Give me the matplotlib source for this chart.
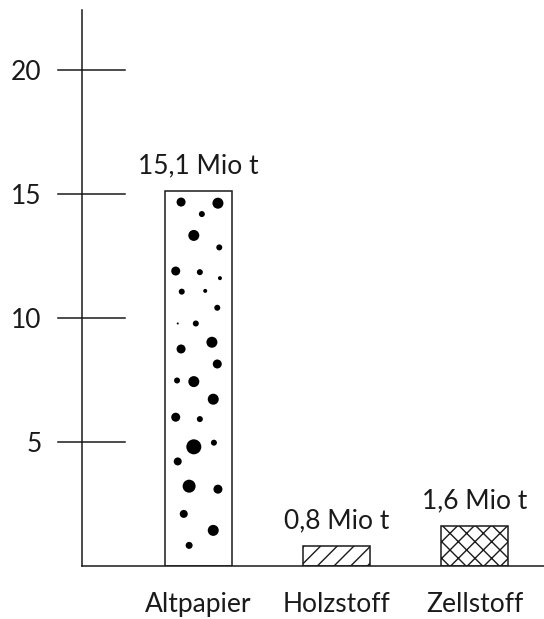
import numpy as np
import matplotlib.pyplot as plt

plt.rcParams['font.family'] = ['Lato', 'DejaVu Sans']

categories = ["Altpapier", "Holzstoff", "Zellstoff"]
values = [15.1, 0.8, 1.6]
value_labels = ["15,1 Mio t", "0,8 Mio t", "1,6 Mio t"]
yticks = [5, 10, 15, 20]

# dot texture of the first bar: position as fraction of bar width/height, diameter in px
dot_fx = [0.24, 0.79, 0.55, 0.43, 0.81, 0.16, 0.52, 0.82, 0.25, 0.60, 0.78, 0.46, 0.19,
          0.70, 0.24, 0.78, 0.18, 0.43, 0.72, 0.16, 0.52, 0.43, 0.73, 0.19, 0.36, 0.79,
          0.28, 0.72, 0.36]
dot_fy = [0.971, 0.968, 0.939, 0.882, 0.850, 0.787, 0.784, 0.768, 0.732, 0.734, 0.689,
          0.647, 0.647, 0.597, 0.579, 0.539, 0.495, 0.492, 0.445, 0.397, 0.392, 0.318,
          0.329, 0.279, 0.213, 0.205, 0.139, 0.095, 0.055]
dot_d = [9, 11, 6, 11, 6, 9, 6, 4, 6, 4, 6, 6, 2, 11, 9, 9, 6, 11, 11, 9, 6, 15, 6, 8,
         13, 9, 8, 11, 7]

ink = '#1a1a1a'
fs = 19
fig = plt.figure(figsize=(5.44, 6.19), dpi=100)
ax = fig.add_axes([82 / 544, 53 / 619, 462 / 544, 556 / 619])

x = np.arange(len(categories))
width = 0.485
hatches = [None, '//', 'xx']
bars = ax.bar(x, values, width=width, color='white', edgecolor=ink, linewidth=1.1,
              zorder=2)
for b, h in zip(bars, hatches):
    if h:
        b.set_hatch(h)

# dots in Altpapier bar
b0 = bars[0]
dx = b0.get_x() + np.array(dot_fx) * b0.get_width()
dy = np.array(dot_fy) * b0.get_height()
ax.scatter(dx, dy, s=(np.array(dot_d) * 0.72) ** 2, color='black', zorder=3,
           linewidths=0)

for xi, v, lab in zip(x, values, value_labels):
    ax.annotate(lab, (xi, v), xytext=(0, 9), textcoords='offset points',
                ha='center', va='bottom', fontsize=fs, color=ink)

ax.set_xlim(-0.843, 2.5)
ax.set_ylim(0, 22.4)

ax.set_xticks(x)
ax.set_xticklabels(categories, fontsize=fs, color=ink)
ax.set_yticks(yticks)
ax.set_yticklabels([str(t) for t in yticks], fontsize=fs, color=ink)
ax.tick_params(axis='x', length=0, pad=19)
ax.tick_params(axis='y', length=0, pad=29)

# cross ticks that straddle the axis
for t in yticks:
    ax.plot([-24 / 462, 43 / 462], [t, t], transform=ax.get_yaxis_transform(),
            color=ink, lw=1.1, clip_on=False)

for s in ['top', 'right']:
    ax.spines[s].set_visible(False)
for s in ['left', 'bottom']:
    ax.spines[s].set_color(ink)
    ax.spines[s].set_linewidth(1.1)

fig.savefig('out.png', dpi=100)
